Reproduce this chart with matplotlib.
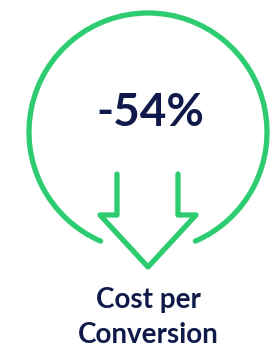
import numpy as np
import matplotlib.pyplot as plt
from matplotlib.patches import Arc

plt.rcParams['font.family'] = ['Lato', 'DejaVu Sans']

value_text = "-54%"
label_lines = ["Cost per", "Conversion"]

green = "#2ECC71"
navy = "#101A4A"

fig = plt.figure(figsize=(2.76, 3.5), dpi=100)
ax = fig.add_axes([0, 0, 1, 1])
ax.set_xlim(0, 276)
ax.set_ylim(350, 0)
ax.axis("off")

# open circle, gap at the bottom (y axis inverted)
cx, cy, r = 148, 132, 119
ax.add_patch(Arc((cx, cy), 2 * r, 2 * r, theta1=113.5, theta2=426.5,
                 lw=3.8, color=green, capstyle="round"))

# down arrow outline, open at top
ax_x = [117, 117, 100, 148, 196, 178, 178]
ax_y = [174, 215, 215, 267, 215, 215, 174]
ax.plot(ax_x, ax_y, color=green, lw=3.8, solid_joinstyle="round",
        solid_capstyle="round")

ax.text(150, 113, value_text, ha="center", va="center", fontsize=33,
        fontweight="bold", color=navy)
ax.text(148, 300, label_lines[0], ha="center", va="center", fontsize=20,
        fontweight="bold", color=navy)
ax.text(148, 335, label_lines[1], ha="center", va="center", fontsize=20,
        fontweight="bold", color=navy)

fig.savefig("out.png", dpi=100)
